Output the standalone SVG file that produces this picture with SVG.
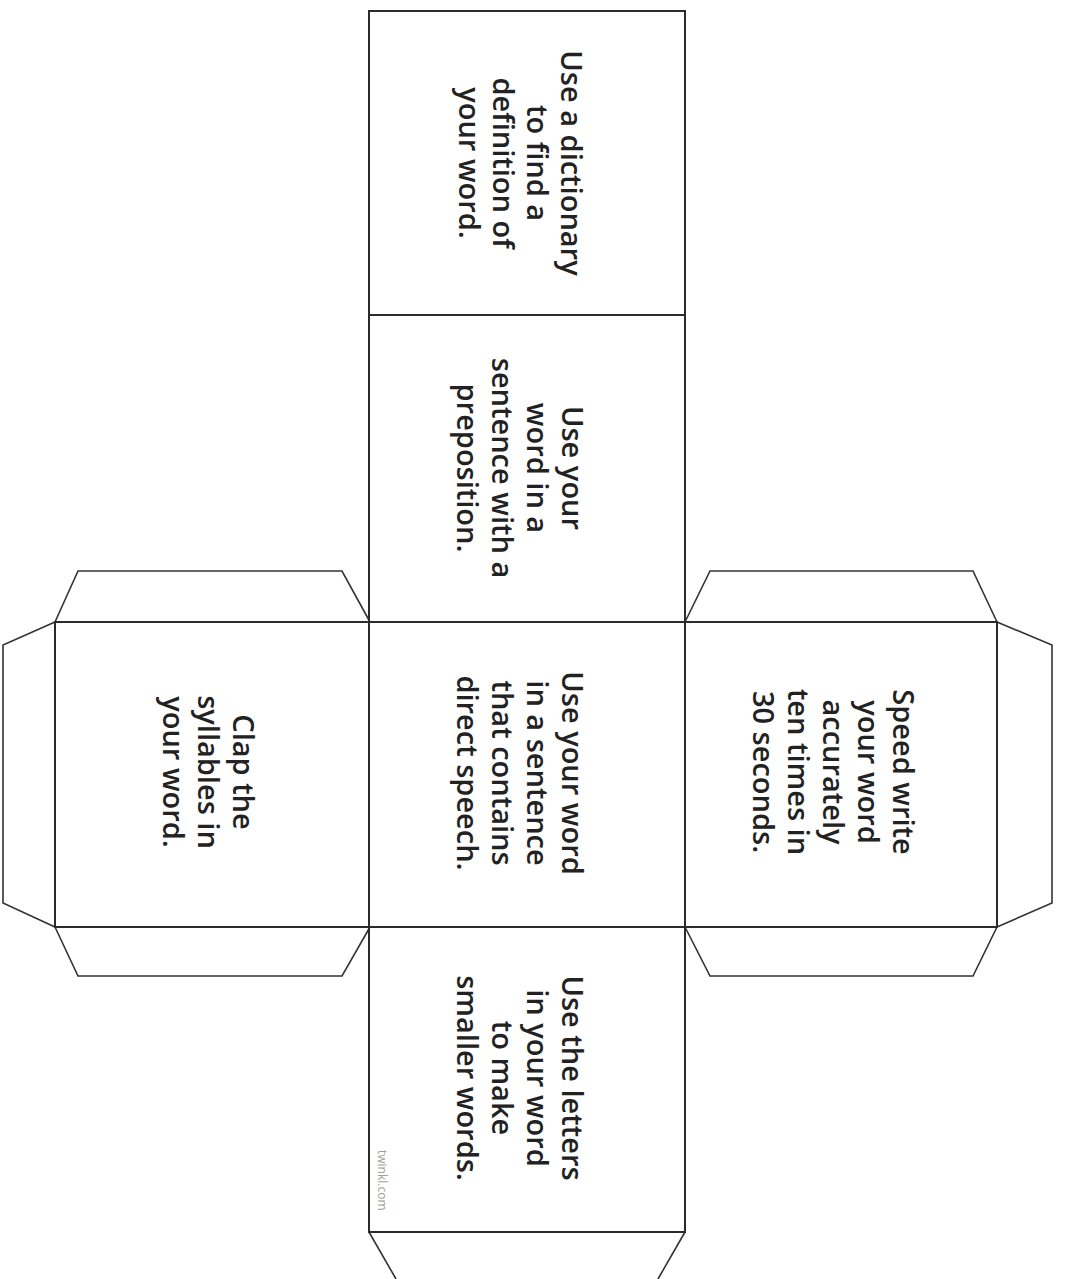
<svg xmlns="http://www.w3.org/2000/svg" width="1066" height="1279" viewBox="0 0 1066 1279">
<style>
.edge{fill:none;stroke:#2b2b2b;stroke-width:2;stroke-linejoin:miter}
.flap{fill:none;stroke:#333;stroke-width:1.6}
.t{font-family:"Open Sans","Noto Sans","Liberation Sans",sans-serif;font-size:29px;font-weight:600;fill:#222;text-anchor:middle}
.wm{font-family:"Open Sans","Liberation Sans",sans-serif;font-size:12px;fill:#a0a0a0}
</style>
<rect width="1066" height="1279" fill="#fff"/>
<g id="flaps">
<polyline class="flap" points="55,622 78,571 342,571 370,622"/>
<polyline class="flap" points="55,927 78,976 342,976 370,927"/>
<polyline class="flap" points="55,622 3,645 3,903 55,927"/>
<polyline class="flap" points="685,622 710,571 973,571 997,622"/>
<polyline class="flap" points="685,927 710,976 973,976 997,927"/>
<polyline class="flap" points="997,622 1052,645 1052,903 997,927"/>
<polyline class="flap" points="369,1232 396,1279"/>
<polyline class="flap" points="685,1232 658,1279"/>
</g>
<g id="face-top">
<rect class="edge" x="369" y="11" width="316" height="304"/>
<g class="t">
<text transform="translate(561,163) rotate(90)">Use a dictionary</text>
<text transform="translate(527,163) rotate(90)">to find a</text>
<text transform="translate(493,163) rotate(90)">definition of</text>
<text transform="translate(459,163) rotate(90)">your word.</text>
</g>
</g>
<g id="face-preposition">
<rect class="edge" x="369" y="315" width="316" height="307"/>
<g class="t">
<text transform="translate(562,468) rotate(90)">Use your</text>
<text transform="translate(527,468) rotate(90)">word in a</text>
<text transform="translate(492,468) rotate(90)">sentence with a</text>
<text transform="translate(457,468) rotate(90)">preposition.</text>
</g>
</g>
<g id="face-centre">
<rect class="edge" x="369" y="622" width="316" height="305"/>
<g class="t">
<text transform="translate(562,773) rotate(90)">Use your word</text>
<text transform="translate(527,773) rotate(90)">in a sentence</text>
<text transform="translate(492,773) rotate(90)">that contains</text>
<text transform="translate(457,773) rotate(90)">direct speech.</text>
</g>
</g>
<g id="face-bottom">
<rect class="edge" x="369" y="927" width="316" height="305"/>
<g class="t">
<text transform="translate(562,1078) rotate(90)">Use the letters</text>
<text transform="translate(527,1078) rotate(90)">in your word</text>
<text transform="translate(492,1078) rotate(90)">to make</text>
<text transform="translate(457,1078) rotate(90)">smaller words.</text>
</g>
<text class="wm" transform="translate(378,1150) rotate(90)">twinkl.com</text>
</g>
<g id="face-left">
<rect class="edge" x="55" y="622" width="314" height="305"/>
<g class="t">
<text transform="translate(233,772) rotate(90)">Clap the</text>
<text transform="translate(198,772) rotate(90)">syllables in</text>
<text transform="translate(163,772) rotate(90)">your word.</text>
</g>
</g>
<g id="face-right">
<rect class="edge" x="685" y="622" width="312" height="305"/>
<g class="t">
<text transform="translate(893,772) rotate(90)">Speed write</text>
<text transform="translate(858,772) rotate(90)">your word</text>
<text transform="translate(823,772) rotate(90)">accurately</text>
<text transform="translate(788,772) rotate(90)">ten times in</text>
<text transform="translate(753,772) rotate(90)">30 seconds.</text>
</g>
</g>
<g id="connectors"></g>
</svg>
